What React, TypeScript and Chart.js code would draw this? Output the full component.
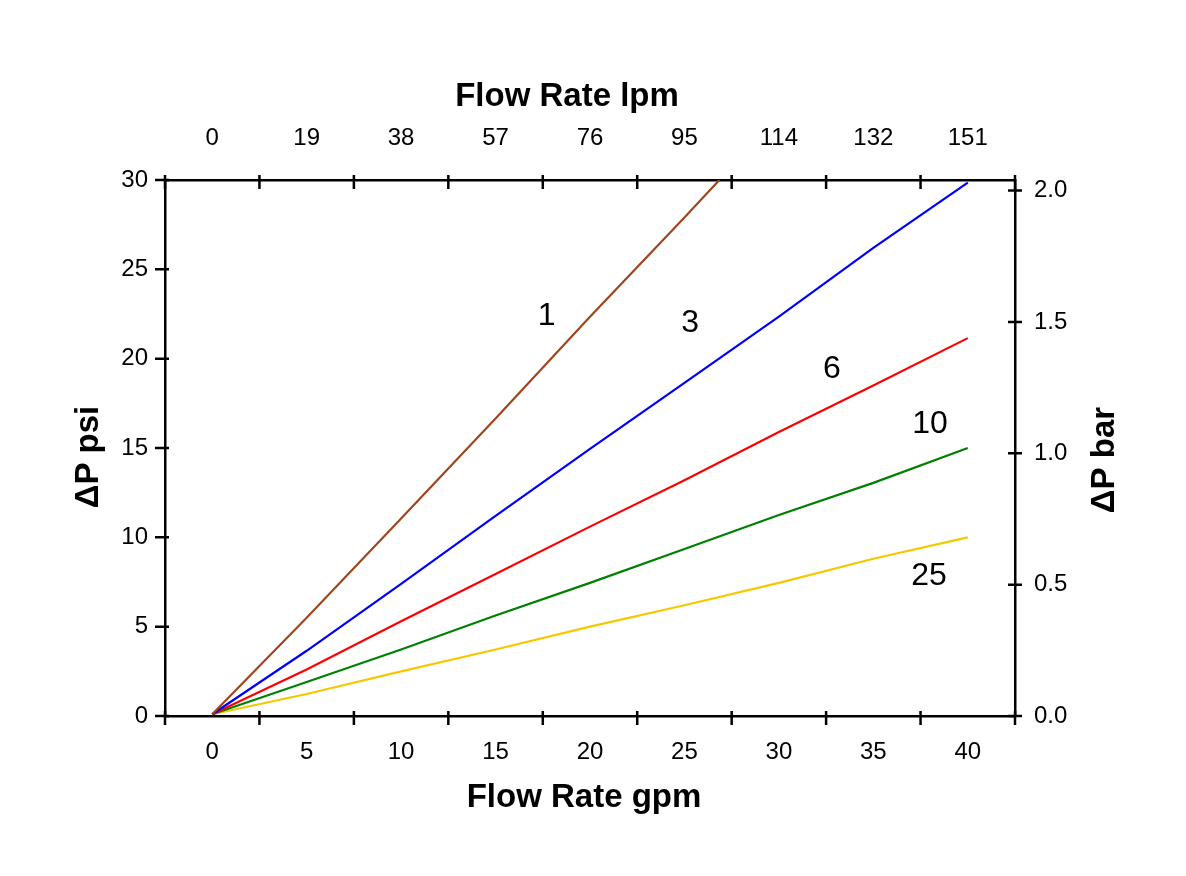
import React, { useEffect, useRef } from "react";
import { Chart, registerables } from "chart.js";

Chart.register(...registerables);

const gpm = [0, 5, 10, 15, 20, 25, 30, 35, 40];
const lpmLabels = ["0", "19", "38", "57", "76", "95", "114", "132", "151"];

const series1X = [0, 5, 10, 15, 20, 25, 26.85];
const series1Y = [0.1, 5.5, 11.05, 16.65, 22.35, 27.9, 30];
const series3 = [0.1, 3.65, 7.4, 11.2, 14.95, 18.65, 22.35, 26.2, 29.85];
const series6 = [0.1, 2.6, 5.3, 7.95, 10.6, 13.2, 15.9, 18.5, 21.15];
const series10 = [0.1, 1.9, 3.72, 5.62, 7.45, 9.35, 11.25, 13.05, 15.0];
const series25 = [0.1, 1.23, 2.5, 3.72, 5.0, 6.2, 7.45, 8.8, 10.0];

const curveLabels = ["1", "3", "6", "10", "25"];
const curveLabelX = [17.7, 25.3, 32.8, 38.0, 37.95];
const curveLabelY = [22.4, 22.0, 19.4, 16.35, 7.85];

const titleBottom = "Flow Rate gpm";
const titleTop = "Flow Rate lpm";
const titleLeft = "ΔP psi";
const titleRight = "ΔP bar";

const FONT = "'Liberation Sans', Arial, Helvetica, sans-serif";

export default function App() {
  const ref = useRef<HTMLCanvasElement | null>(null);

  useEffect(() => {
    if (!ref.current) return;
    const decor = {
      id: "decor",
      afterDraw(chart: any) {
        const ctx = chart.ctx;
        const x = chart.scales.x;
        const x2 = chart.scales.x2;
        const y = chart.scales.y;
        const y2 = chart.scales.y2;
        const a = chart.chartArea;
        ctx.save();
        ctx.strokeStyle = "#000";
        ctx.lineWidth = 2.5;
        ctx.beginPath();
        for (let v = -2.5; v <= 42.5 + 1e-9; v += 5) {
          const px = x.getPixelForValue(v);
          ctx.moveTo(px, a.bottom - 5);
          ctx.lineTo(px, a.bottom + 9);
          const px2 = x2.getPixelForValue(v);
          ctx.moveTo(px2, a.top - 5);
          ctx.lineTo(px2, a.top + 9);
        }
        for (let v = 0; v <= 30 + 1e-9; v += 5) {
          const py = y.getPixelForValue(v);
          ctx.moveTo(a.left - 10, py);
          ctx.lineTo(a.left + 4, py);
        }
        for (let v = 0; v <= 2 + 1e-9; v += 0.5) {
          const py = y2.getPixelForValue(v);
          ctx.moveTo(a.right - 7, py);
          ctx.lineTo(a.right + 7, py);
        }
        ctx.stroke();

        ctx.fillStyle = "#000";
        ctx.font = `32px ${FONT}`;
        ctx.textAlign = "center";
        ctx.textBaseline = "middle";
        curveLabels.forEach((t, i) => {
          ctx.fillText(t, x.getPixelForValue(curveLabelX[i]), y.getPixelForValue(curveLabelY[i]));
        });

        ctx.font = `bold 33px ${FONT}`;
        ctx.fillText(titleTop, 567, 97);
        ctx.fillText(titleBottom, 584, 798);

        ctx.save();
        ctx.translate(89, 457);
        ctx.rotate(-Math.PI / 2);
        ctx.fillText(titleLeft, 0, 0);
        ctx.restore();

        ctx.save();
        ctx.translate(1105, 460);
        ctx.rotate(-Math.PI / 2);
        ctx.fillText(titleRight, 0, 0);
        ctx.restore();

        ctx.restore();
      },
    };

    const tickFont = { family: FONT, size: 24 };

    const mk = (label: string, data: number[], color: string) => ({
      label,
      data: gpm.map((g, i) => ({ x: g, y: data[i] })),
      borderColor: color,
      borderWidth: 2.2,
      pointRadius: 0,
      fill: false,
      tension: 0,
    });

    const chart = new Chart(ref.current, {
      type: "line",
      data: {
        datasets: [
          {
            label: "1",
            data: series1X.map((g, i) => ({ x: g, y: series1Y[i] })),
            borderColor: "#A0461E",
            borderWidth: 2.2,
            pointRadius: 0,
            fill: false,
            tension: 0,
          },
          mk("3", series3, "#0000FF"),
          mk("6", series6, "#FF0000"),
          mk("10", series10, "#008000"),
          mk("25", series25, "#F5C800"),
        ],
      },
      options: {
        responsive: false,
        animation: false,
        layout: { padding: 0 },
        plugins: {
          legend: { display: false },
          tooltip: { enabled: false },
          title: { display: false },
        },
        scales: {
          x: {
            type: "linear",
            position: "bottom",
            min: -2.5,
            max: 42.5,
            afterFit: (s: any) => {
              s.height = 160;
            },
            grid: { display: false, drawTicks: false },
            border: { display: true, color: "#000", width: 2.5 },
            ticks: {
              stepSize: 2.5,
              autoSkip: false,
              maxRotation: 0,
              padding: 22,
              color: "#000",
              font: tickFont,
              callback: (v: any) => (Math.abs(v % 5) < 1e-9 && v >= 0 ? String(v) : ""),
            },
            title: { display: false },
          },
          x2: {
            type: "linear",
            position: "top",
            min: -2.5,
            max: 42.5,
            afterFit: (s: any) => {
              s.height = 180;
            },
            grid: { display: false, drawTicks: false },
            border: { display: true, color: "#000", width: 2.5 },
            ticks: {
              stepSize: 2.5,
              autoSkip: false,
              maxRotation: 0,
              padding: 27,
              color: "#000",
              font: tickFont,
              callback: (v: any) => {
                if (Math.abs(v % 5) < 1e-9 && v >= 0) {
                  const idx = Math.round(v / 5);
                  return lpmLabels[idx] ?? "";
                }
                return "";
              },
            },
            title: { display: false },
          },
          y: {
            type: "linear",
            position: "left",
            min: 0,
            max: 30,
            afterFit: (s: any) => {
              s.width = 165;
            },
            grid: { display: false, drawTicks: false },
            border: { display: true, color: "#000", width: 2.5 },
            ticks: {
              stepSize: 5,
              padding: 17,
              color: "#000",
              font: tickFont,
            },
            title: { display: false },
          },
          y2: {
            type: "linear",
            position: "right",
            min: 0,
            max: 2.04,
            afterFit: (s: any) => {
              s.width = 171;
            },
            grid: { display: false, drawTicks: false },
            border: { display: true, color: "#000", width: 2.5 },
            ticks: {
              stepSize: 0.5,
              includeBounds: false,
              padding: 19,
              color: "#000",
              font: tickFont,
              callback: (v: any) => Number(v).toFixed(1),
            },
            title: { display: false },
          },
        },
      },
      plugins: [decor],
    });
    return () => chart.destroy();
  }, []);

  return (
    <div style={{ position: "fixed", left: 0, top: 0, width: 1186, height: 876, background: "#fff" }}>
      <canvas ref={ref} width={1186} height={876} />
    </div>
  );
}
